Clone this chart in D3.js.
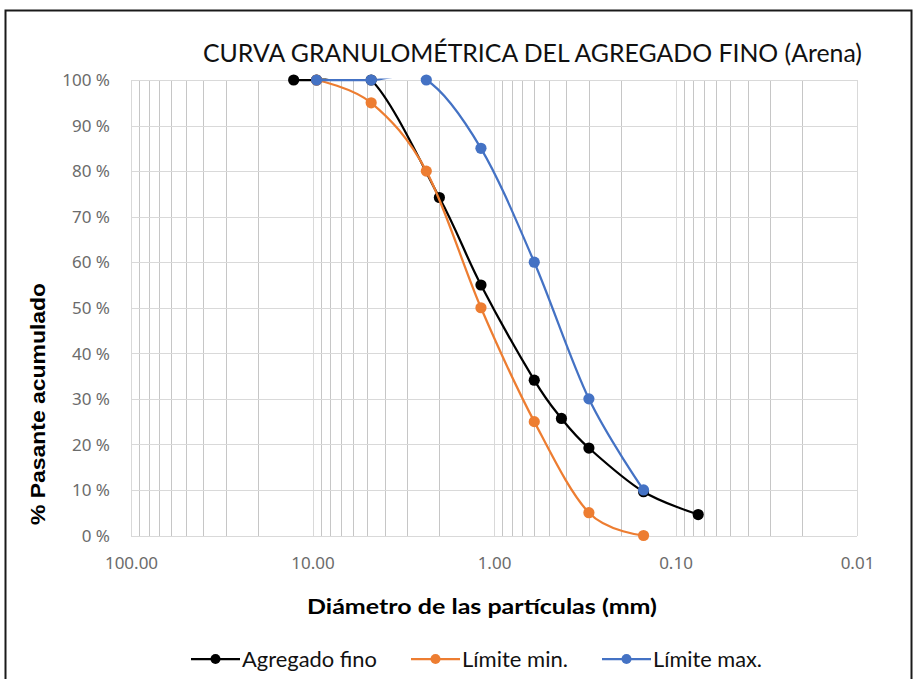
<!DOCTYPE html>
<html>
<head>
<meta charset="utf-8">
<script src="https://cdn.jsdelivr.net/npm/d3@7"></script>
<style>
  html, body { margin: 0; padding: 0; background: #fff; }
  svg { display: block; }
</style>
</head>
<body>
<svg id="chart" width="920" height="679"></svg>
<script>
// Sieve sizes (mm) and cumulative % passing for each curve
const fineDiam = [12.7, 9.5, 4.75, 2.0, 1.18, 0.6, 0.425, 0.3, 0.15, 0.075];
const finePass = [100, 100, 100, 74.2, 55.0, 34.1, 25.7, 19.2, 9.6, 4.6];

const minDiam = [9.5, 4.75, 2.36, 1.18, 0.6, 0.3, 0.15];
const minPass = [100, 95, 80, 50, 25, 5, 0];

const maxDiam = [9.5, 4.75, 2.36, 1.18, 0.6, 0.3, 0.15];
const maxPass = [100, 100, 100, 85, 60, 30, 10];

const seriesNames = ["Agregado fino", "Límite min.", "Límite max."];
const seriesColors = ["#000000", "#ED7D31", "#4472C4"];

const xTickValues = [100, 10, 1, 0.1, 0.01];
const yTickValues = [0, 10, 20, 30, 40, 50, 60, 70, 80, 90, 100];

const titleText = "CURVA GRANULOMÉTRICA DEL AGREGADO FINO (Arena)";
const xTitleText = "Diámetro  de las partículas (mm)";
const yTitleText = "% Pasante acumulado";

const svg = d3.select("#chart");
const plot = { left: 131, right: 857, top: 80, bottom: 535.5 };

const x = d3.scaleLog().domain([100, 0.01]).range([plot.left, plot.right]);
const y = d3.scaleLinear().domain([0, 100]).range([plot.bottom, plot.top]);

// outer frame
svg.append("rect")
  .attr("x", 5.5).attr("y", 10.5).attr("width", 906).attr("height", 700)
  .attr("fill", "none").attr("stroke", "#1a1a1a").attr("stroke-width", 2);

// title
svg.append("text")
  .attr("x", 203).attr("y", 62)
  .attr("textLength", 659).attr("lengthAdjust", "spacingAndGlyphs")
  .style("font-family", "Lato, 'Open Sans', sans-serif")
  .style("font-size", "25px").attr("fill", "#111")
  .text(titleText);

// vertical gridlines: every log tick, powers of ten lighter
const grid = svg.append("g").attr("shape-rendering", "crispEdges");
const isMajor = v => Math.abs(Math.log10(v) - Math.round(Math.log10(v))) < 1e-9;
grid.selectAll("line.vx")
  .data(x.ticks())
  .join("line")
  .attr("class", "vx")
  .attr("x1", d => Math.round(x(d)) + 0.5).attr("x2", d => Math.round(x(d)) + 0.5)
  .attr("y1", plot.top).attr("y2", plot.bottom)
  .attr("stroke", d => isMajor(d) ? "#d9d9d9" : "#c6c6c6")
  .attr("stroke-width", 1);

// horizontal gridlines
grid.selectAll("line.hy")
  .data(yTickValues)
  .join("line")
  .attr("class", "hy")
  .attr("x1", plot.left).attr("x2", plot.right)
  .attr("y1", d => Math.round(y(d)) + 0.5).attr("y2", d => Math.round(y(d)) + 0.5)
  .attr("stroke", "#d9d9d9").attr("stroke-width", 1);

// axes (labels only; lines are drawn by the grid)
const xAxis = d3.axisBottom(x).tickValues(xTickValues)
  .tickFormat(d3.format(".2f")).tickSize(0).tickPadding(0);
svg.append("g")
  .attr("transform", `translate(0, 569)`)
  .call(xAxis)
  .call(g => g.select(".domain").remove())
  .call(g => g.selectAll("text")
    .attr("dy", 0)
    .style("font-family", "'Noto Sans', 'Open Sans', sans-serif")
    .style("font-size", "17px").attr("fill", "#6b6b6b"));

const yAxis = d3.axisLeft(y).tickValues(yTickValues)
  .tickFormat(d => d + " %").tickSize(0).tickPadding(0);
svg.append("g")
  .attr("transform", `translate(110, 0)`)
  .call(yAxis)
  .call(g => g.select(".domain").remove())
  .call(g => g.selectAll("text")
    .attr("dy", "0.34em")
    .style("font-family", "'Noto Sans', 'Open Sans', sans-serif")
    .style("font-size", "17px").attr("fill", "#6b6b6b"));

// axis titles
svg.append("text")
  .attr("x", 307).attr("y", 614)
  .attr("textLength", 350).attr("lengthAdjust", "spacingAndGlyphs")
  .style("font-family", "Lato, 'Open Sans', sans-serif")
  .style("font-weight", "bold").style("font-size", "21px").attr("fill", "#000")
  .text(xTitleText);

svg.append("text")
  .attr("transform", "translate(45, 404) rotate(-90)")
  .attr("text-anchor", "middle")
  .attr("textLength", 242).attr("lengthAdjust", "spacingAndGlyphs")
  .style("font-family", "'Liberation Sans', Arial, sans-serif")
  .style("font-weight", "bold").style("font-size", "21px").attr("fill", "#000")
  .text(yTitleText);

// series
const series = [
  { diam: fineDiam, pass: finePass },
  { diam: minDiam, pass: minPass },
  { diam: maxDiam, pass: maxPass }
].map((s, i) => ({
  name: seriesNames[i],
  color: seriesColors[i],
  points: s.diam.map((d, j) => ({ d, p: s.pass[j] }))
}));

svg.append("clipPath").attr("id", "plot-clip")
  .append("rect")
  .attr("x", plot.left).attr("y", plot.top - 1.5)
  .attr("width", plot.right - plot.left).attr("height", plot.bottom - plot.top + 3);

const line = d3.line()
  .x(d => x(d.d)).y(d => y(d.p))
  .curve(d3.curveCardinal.tension(0));

const seriesG = svg.append("g");
series.forEach(s => {
  const g = seriesG.append("g");
  g.append("path")
    .attr("d", line(s.points))
    .attr("clip-path", "url(#plot-clip)")
    .attr("fill", "none").attr("stroke", s.color)
    .attr("stroke-width", 2.25).attr("stroke-linejoin", "round");
  g.selectAll("circle")
    .data(s.points)
    .join("circle")
    .attr("cx", d => x(d.d)).attr("cy", d => y(d.p))
    .attr("r", 5.6).attr("fill", s.color);
});

// legend
const legendX = [191, 411, 602];
const legendW = [135, 106, 109];
const legend = svg.append("g");
series.forEach((s, i) => {
  const g = legend.append("g").attr("transform", `translate(${legendX[i]}, 659)`);
  g.append("line").attr("x1", 0).attr("x2", 49).attr("y1", 0).attr("y2", 0)
    .attr("stroke", s.color).attr("stroke-width", 2.25);
  g.append("circle").attr("cx", 24.5).attr("cy", 0).attr("r", 5).attr("fill", s.color);
  g.append("text")
    .attr("x", 51).attr("y", 7.5)
    .attr("textLength", legendW[i]).attr("lengthAdjust", "spacingAndGlyphs")
    .style("font-family", "Lato, 'Open Sans', sans-serif")
    .style("font-size", "21px").attr("fill", "#111")
    .text(s.name);
});
</script>
</body>
</html>
